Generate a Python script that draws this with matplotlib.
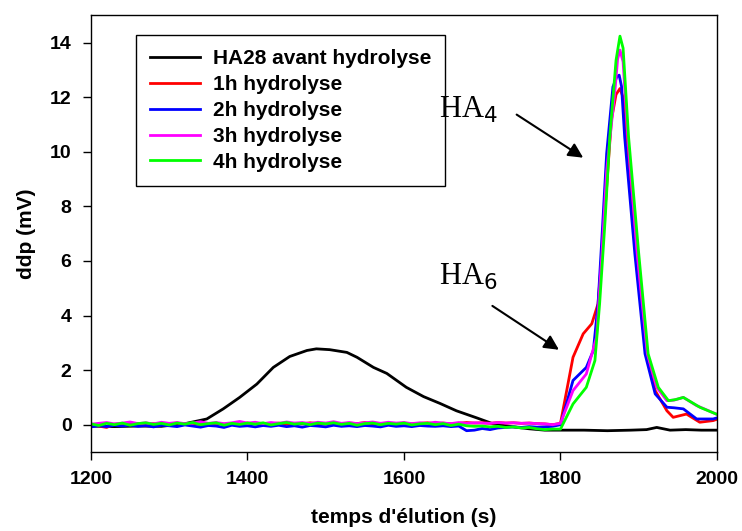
import matplotlib
matplotlib.use("Agg")
import matplotlib.pyplot as plt

plt.rcParams['font.family'] = ['Liberation Sans', 'DejaVu Sans']

# ---------------- data ----------------
black_t = [1200, 1230, 1260, 1290, 1322, 1348, 1369, 1390, 1412, 1433, 1454, 1476, 1488,
           1505, 1527, 1540, 1561, 1578, 1603, 1625, 1646, 1667, 1693, 1714, 1740, 1760,
           1780, 1800, 1830, 1860, 1890, 1910, 1923, 1940, 1960, 1980, 2000]
black_v = [-0.05, -0.07, -0.05, -0.06, 0.05, 0.21, 0.58, 1.00, 1.49, 2.10, 2.50, 2.72, 2.78,
           2.75, 2.65, 2.47, 2.10, 1.88, 1.37, 1.03, 0.78, 0.51, 0.25, 0.03, -0.08, -0.15,
           -0.2, -0.2, -0.2, -0.22, -0.2, -0.18, -0.1, -0.2, -0.18, -0.2, -0.2]

base_t = [1200, 1210, 1220, 1230, 1240, 1250, 1260, 1270, 1280, 1290,
          1300, 1310, 1320, 1330, 1340, 1350, 1360, 1370, 1380, 1390,
          1400, 1410, 1420, 1430, 1440, 1450, 1460, 1470, 1480, 1490,
          1500, 1510, 1520, 1530, 1540, 1550, 1560, 1570, 1580, 1590,
          1600, 1610, 1620, 1630, 1640, 1650, 1660, 1670, 1680, 1690,
          1700, 1710, 1720, 1730, 1740, 1750, 1760, 1770, 1780, 1790]

red_base = [0.00, -0.05, -0.10, 0.02, 0.03, 0.00, 0.05, 0.02, 0.04, 0.00,
            0.03, 0.06, 0.02, 0.05, 0.00, 0.03, 0.05, 0.01, 0.04, 0.02,
            0.06, 0.03, 0.00, 0.04, 0.06, 0.02, 0.05, 0.03, 0.07, 0.04,
            0.02, 0.05, 0.03, 0.06, 0.04, 0.08, 0.03, 0.05, 0.02, 0.04,
            0.06, 0.03, 0.05, 0.07, 0.04, 0.06, 0.03, 0.05, 0.08, 0.06,
            0.07, 0.05, 0.08, 0.06, 0.07, 0.05, 0.06, 0.04, 0.03, 0.00]
blue_base = [-0.08, -0.04, -0.07, -0.02, -0.05, -0.01, -0.06, -0.03, -0.08, -0.02,
             -0.04, -0.07, -0.01, -0.05, -0.09, -0.03, -0.05, -0.10, -0.02, -0.06,
             -0.04, -0.08, -0.03, -0.06, -0.02, -0.07, -0.04, -0.09, -0.03, -0.05,
             -0.08, -0.02, -0.06, -0.04, -0.07, -0.03, -0.05, -0.08, -0.02, -0.06,
             -0.04, -0.07, -0.03, -0.05, -0.06, -0.04, -0.07, -0.05, -0.22, -0.20,
             -0.14, -0.18, -0.12, -0.10, -0.08, -0.10, -0.07, -0.09, -0.08, -0.06]
magenta_base = [0.02, 0.05, 0.08, 0.03, 0.06, 0.10, 0.04, 0.07, 0.03, 0.09,
                0.05, 0.08, 0.04, 0.06, 0.11, 0.05, 0.08, 0.04, 0.07, 0.12,
                0.06, 0.09, 0.04, 0.08, 0.05, 0.10, 0.06, 0.08, 0.04, 0.09,
                0.06, 0.11, 0.05, 0.08, 0.04, 0.07, 0.10, 0.05, 0.09, 0.06,
                0.08, 0.04, 0.07, 0.05, 0.09, 0.06, 0.04, 0.08, 0.05, 0.07,
                0.06, 0.05, 0.08, 0.06, 0.07, 0.05, 0.06, 0.04, 0.03, 0.00]
green_base = [0.03, -0.03, 0.05, 0.00, 0.06, -0.02, 0.04, 0.07, 0.01, 0.05,
              -0.01, 0.06, 0.02, 0.08, 0.00, 0.04, 0.07, -0.02, 0.05, 0.01,
              0.06, 0.02, 0.07, -0.01, 0.04, 0.08, 0.02, 0.05, 0.00, 0.06,
              0.03, 0.07, 0.01, 0.05, -0.02, 0.04, 0.06, 0.00, 0.05, 0.02,
              0.06, -0.01, 0.03, 0.05, 0.00, 0.04, -0.03, 0.02, -0.04, -0.06,
              -0.05, -0.08, -0.06, -0.10, -0.08, -0.12, -0.10, -0.15, -0.18, -0.16]

red_peak_t = [1800, 1816, 1829, 1840, 1848, 1853, 1859, 1865, 1871, 1876, 1880, 1885,
              1897, 1910, 1921, 1936, 1944, 1961, 1978, 1995, 2000]
red_peak_v = [0.05, 2.47, 3.33, 3.70, 4.43, 6.27, 8.71, 11.16, 12.10, 12.32, 12.00, 10.55,
              6.27, 2.60, 1.25, 0.51, 0.27, 0.39, 0.09, 0.15, 0.20]
blue_peak_t = [1800, 1816, 1833, 1842, 1848, 1853, 1859, 1867, 1872, 1875, 1878, 1882,
               1895, 1908, 1921, 1936, 1945, 1957, 1974, 1995, 2000]
blue_peak_v = [0.00, 1.62, 2.10, 2.72, 4.43, 6.88, 9.94, 12.38, 12.75, 12.81, 12.40, 10.55,
               6.27, 2.60, 1.13, 0.64, 0.62, 0.58, 0.21, 0.21, 0.25]
magenta_peak_t = [1800, 1816, 1833, 1846, 1853, 1859, 1870, 1873, 1876, 1880, 1886,
                  1898, 1911, 1923, 1936, 1945, 1957, 1974, 1999, 2000]
magenta_peak_v = [0.05, 1.25, 1.86, 3.20, 6.27, 9.30, 12.38, 13.40, 13.73, 13.30, 10.55,
                  6.27, 2.60, 1.37, 0.88, 0.90, 1.00, 0.70, 0.39, 0.38]
green_peak_t = [1800, 1816, 1833, 1844, 1850, 1857, 1863, 1871, 1876, 1880, 1887,
                1900, 1912, 1925, 1938, 1947, 1957, 1978, 1999, 2000]
green_peak_v = [-0.16, 0.76, 1.37, 2.35, 4.43, 7.49, 10.55, 13.36, 14.24, 13.80, 10.55,
                6.27, 2.60, 1.37, 0.88, 0.92, 1.00, 0.64, 0.39, 0.38]

labels = ["HA28 avant hydrolyse", "1h hydrolyse", "2h hydrolyse", "3h hydrolyse", "4h hydrolyse"]
colors = ["black", "#ff0000", "#0000ff", "#ff00ff", "#00ff00"]

# ---------------- figure ----------------
fig = plt.figure(figsize=(7.42, 5.31), dpi=100)
ax = fig.add_axes([0.1226, 0.1488, 0.9663 - 0.1226, 0.971 - 0.1488])

series = [
    (black_t, black_v),
    (base_t + red_peak_t, red_base + red_peak_v),
    (base_t + blue_peak_t, blue_base + blue_peak_v),
    (base_t + magenta_peak_t, magenta_base + magenta_peak_v),
    (base_t + green_peak_t, green_base + green_peak_v),
]
for (t, v), c, lab in zip(series, colors, labels):
    ax.plot(t, v, color=c, lw=2, label=lab, solid_joinstyle='round')

ax.set_xlim(1200, 2000)
ax.set_ylim(-1, 15)
ax.set_xticks([1200, 1400, 1600, 1800, 2000])
ax.set_yticks([0, 2, 4, 6, 8, 10, 12, 14])
ax.tick_params(direction='out', length=6, width=1, labelsize=14, pad=8)
for lab in ax.get_xticklabels() + ax.get_yticklabels():
    lab.set_fontweight('bold')
for sp in ax.spines.values():
    sp.set_linewidth(1)

ax.set_xlabel("temps d'élution (s)", fontsize=15, fontweight='bold', labelpad=14)
ax.set_ylabel("ddp (mV)", fontsize=15, fontweight='bold', labelpad=10)

leg = ax.legend(loc='upper left', bbox_to_anchor=(0.072, 0.955), borderaxespad=0,
                fancybox=False, edgecolor='black', framealpha=1,
                prop={'weight': 'bold', 'size': 15}, handlelength=2.4,
                labelspacing=0.33, borderpad=0.68, handletextpad=0.6)
leg.get_frame().set_linewidth(1)
leg.set_zorder(5)

serif = ['Liberation Serif', 'DejaVu Serif']
ax.annotate("", xy=(1832, 9.73), xytext=(1741, 11.42),
            arrowprops=dict(arrowstyle='-|>', color='black', lw=1.5, mutation_scale=22))
ax.text(1645, 11.55, "HA$_4$", fontsize=22, family=serif, ha='left', va='center', zorder=6)
ax.annotate("", xy=(1801, 2.69), xytext=(1710, 4.41),
            arrowprops=dict(arrowstyle='-|>', color='black', lw=1.5, mutation_scale=22))
ax.text(1645, 5.4, "HA$_6$", fontsize=22, family=serif, ha='left', va='center', zorder=6)

fig.savefig("out.png", dpi=100)
